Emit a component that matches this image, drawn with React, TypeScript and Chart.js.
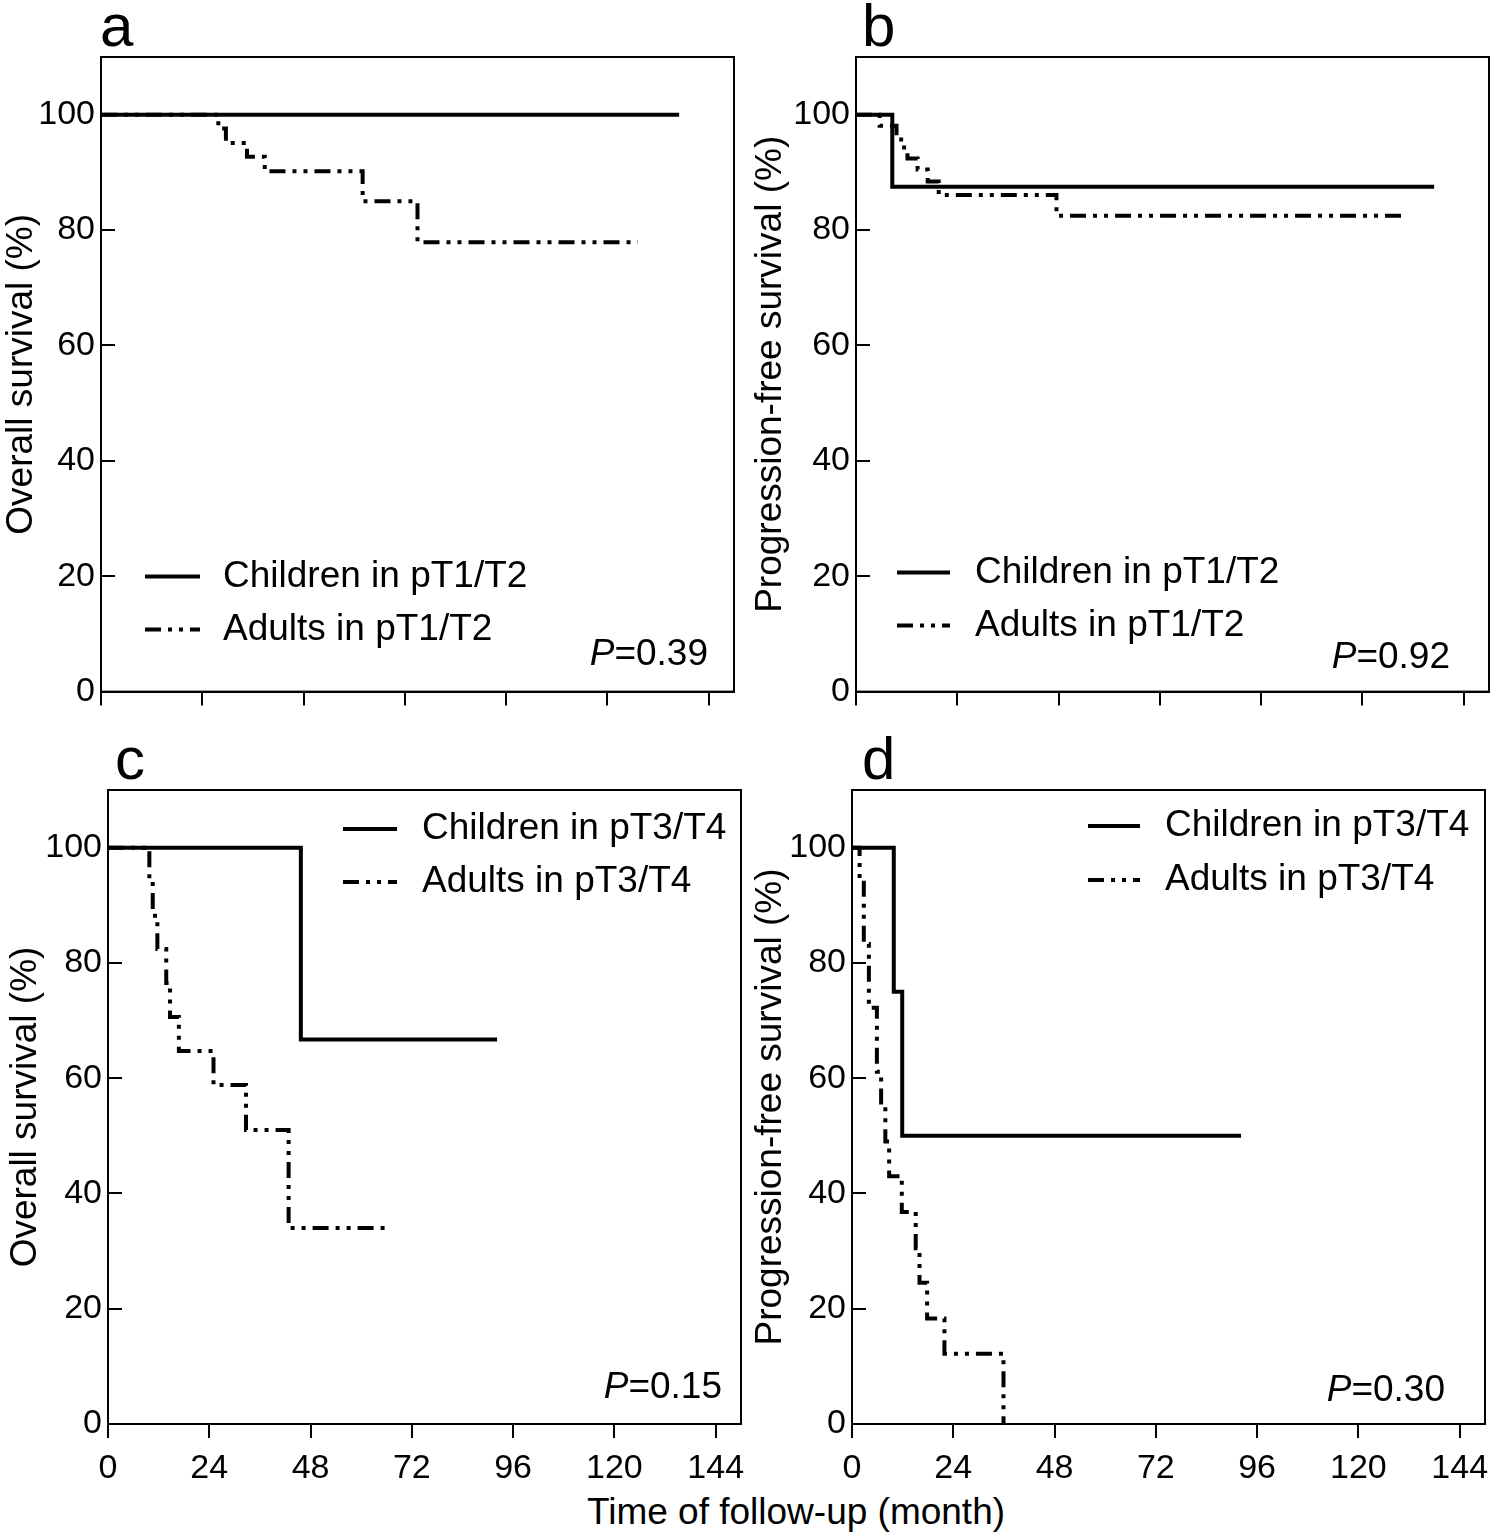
import React, { useEffect, useRef } from 'react';
import { Chart, registerables } from 'chart.js';

Chart.register(...registerables);

const FONT = '"Liberation Sans", Arial, Helvetica, sans-serif';
Chart.defaults.font.family = FONT;
Chart.defaults.color = '#000';

// ---- axes ----
const xTicks = [0, 24, 48, 72, 96, 120, 144];
const yTicks = [0, 20, 40, 60, 80, 100];
const xMax = 150;
const yMax = 110;
const xTitle = 'Time of follow-up (month)';

// ---- panel a: OS, pT1/T2 ----
const aChildrenTime = [0, 137];
const aChildrenSurv = [100, 100];
const aAdultsTime = [0, 27.8, 29.6, 34.6, 38.8, 62.0, 75.0, 127.2];
const aAdultsSurv = [100, 97.6, 95.1, 92.7, 90.2, 85.0, 77.9, 77.9];

// ---- panel b: PFS, pT1/T2 ----
const bChildrenTime = [0, 8.6, 137];
const bChildrenSurv = [100, 87.5, 87.5];
const bAdultsTime = [0, 5.6, 9.6, 10.7, 12.2, 14.6, 17.0, 19.6, 47.5, 129.4];
const bAdultsSurv = [100, 98.1, 96.2, 94.3, 92.4, 90.5, 88.4, 86.1, 82.5, 82.5];

// ---- panel c: OS, pT3/T4 ----
const cChildrenTime = [0, 45.7, 92.2];
const cChildrenSurv = [100, 66.7, 66.7];
const cAdultsTime = [0, 9.8, 10.6, 11.7, 13.8, 14.7, 16.8, 25.0, 32.7, 42.8, 66.5];
const cAdultsSurv = [100, 94.1, 88.2, 82.4, 76.5, 70.6, 64.7, 58.8, 51.0, 34.0, 34.0];

// ---- panel d: PFS, pT3/T4 ----
const dChildrenTime = [0, 9.9, 11.9, 92.2];
const dChildrenSurv = [100, 75.0, 50.0, 50.0];
const dAdultsTime = [0, 1.8, 2.8, 4.0, 5.9, 6.9, 7.9, 8.8, 11.8, 15.1, 16.0, 17.8, 21.9, 35.9];
const dAdultsSurv = [100, 94.4, 83.3, 72.2, 61.1, 55.0, 49.0, 43.0, 36.8, 30.5, 24.5, 18.3, 12.2, 0];

// ---- text ----
const legendTop = ['Children in pT1/T2', 'Adults in pT1/T2'];
const legendBottom = ['Children in pT3/T4', 'Adults in pT3/T4'];
const yTitleOS = 'Overall survival (%)';
const yTitlePFS = 'Progression-free survival (%)';
const pValues = ['0.39', '0.92', '0.15', '0.30'];
const letters = ['a', 'b', 'c', 'd'];

const ADULT_DASH = [16, 7, 4, 7, 4, 7];

const toPoints = (t: number[], s: number[]) => t.map((x, i) => ({ x, y: s[i] }));

const decorPlugin = {
  id: 'panelDecor',
  afterDraw(chart: any, _args: any, opts: any) {
    const { ctx, chartArea: ca } = chart;
    ctx.save();
    // frame
    ctx.strokeStyle = '#000';
    ctx.lineWidth = 2;
    ctx.setLineDash([]);
    ctx.strokeRect(ca.left, ca.top, ca.right - ca.left, ca.bottom - ca.top);
    // panel letter
    ctx.fillStyle = '#000';
    ctx.font = `60px ${FONT}`;
    ctx.textAlign = 'left';
    ctx.textBaseline = 'alphabetic';
    ctx.fillText(opts.letter, ca.left + opts.letterDx, ca.top - 11);
    // legend
    const lg = opts.legend;
    ctx.font = `37px ${FONT}`;
    ctx.textBaseline = 'middle';
    chart.data.datasets.forEach((ds: any, i: number) => {
      const y = (lg.from === 'top' ? ca.top : ca.bottom) + lg.ys[i];
      ctx.beginPath();
      ctx.lineWidth = 4;
      ctx.lineCap = 'butt';
      ctx.setLineDash(ds.borderDash || []);
      ctx.moveTo(ca.left + lg.x0, y);
      ctx.lineTo(ca.left + lg.x1, y);
      ctx.stroke();
      ctx.setLineDash([]);
      ctx.fillText(ds.label, ca.left + lg.tx, y);
    });
    // P value
    ctx.textBaseline = 'alphabetic';
    const rest = '=' + opts.p;
    ctx.font = `37px ${FONT}`;
    const wRest = ctx.measureText(rest).width;
    ctx.font = `italic 37px ${FONT}`;
    const wP = ctx.measureText('P').width;
    const xEnd = ca.right + opts.pDx;
    const yB = ca.bottom + opts.pDy;
    ctx.fillText('P', xEnd - wRest - wP, yB);
    ctx.font = `37px ${FONT}`;
    ctx.fillText(rest, xEnd - wRest, yB);
    ctx.restore();
  },
};

type PanelCfg = {
  left: number; top: number; w: number; h: number;
  padTop: number; padRight: number; yAxisW: number; xAxisH: number;
  showXLabels: boolean; yTitle: string; yTitlePad: number;
  labels: string[];
  childT: number[]; childS: number[]; adultT: number[]; adultS: number[];
  letter: string; letterDx: number; p: string; pDx: number; pDy: number;
  legend: { x0: number; x1: number; tx: number; ys: number[]; from: string };
};

const panels: PanelCfg[] = [
  {
    left: 0, top: 0, w: 745, h: 732, padTop: 57, padRight: 11, yAxisW: 101, xAxisH: 40,
    showXLabels: false, yTitle: yTitleOS, yTitlePad: 0, labels: legendTop,
    childT: aChildrenTime, childS: aChildrenSurv, adultT: aAdultsTime, adultS: aAdultsSurv,
    letter: letters[0], letterDx: -1, p: pValues[0], pDx: -26, pDy: -27,
    legend: { x0: 44, x1: 99, tx: 122, ys: [-115, -62], from: 'bottom' },
  },
  {
    left: 745, top: 0, w: 746, h: 732, padTop: 57, padRight: 2, yAxisW: 111, xAxisH: 40,
    showXLabels: false, yTitle: yTitlePFS, yTitlePad: 4, labels: legendTop,
    childT: bChildrenTime, childS: bChildrenSurv, adultT: bAdultsTime, adultS: bAdultsSurv,
    letter: letters[1], letterDx: 6, p: pValues[1], pDx: -39, pDy: -24,
    legend: { x0: 41, x1: 94, tx: 119, ys: [-119, -66], from: 'bottom' },
  },
  {
    left: 0, top: 720, w: 745, h: 770, padTop: 70, padRight: 4, yAxisW: 108, xAxisH: 66,
    showXLabels: true, yTitle: yTitleOS, yTitlePad: 4, labels: legendBottom,
    childT: cChildrenTime, childS: cChildrenSurv, adultT: cAdultsTime, adultS: cAdultsSurv,
    letter: letters[2], letterDx: 7, p: pValues[2], pDx: -19, pDy: -26,
    legend: { x0: 235, x1: 289, tx: 314, ys: [39, 92], from: 'top' },
  },
  {
    left: 745, top: 720, w: 746, h: 770, padTop: 70, padRight: 6, yAxisW: 107, xAxisH: 66,
    showXLabels: true, yTitle: yTitlePFS, yTitlePad: 4, labels: legendBottom,
    childT: dChildrenTime, childS: dChildrenSurv, adultT: dAdultsTime, adultS: dAdultsSurv,
    letter: letters[3], letterDx: 10, p: pValues[3], pDx: -40, pDy: -23,
    legend: { x0: 236, x1: 288, tx: 313, ys: [36, 90], from: 'top' },
  },
];

function Panel({ cfg }: { cfg: PanelCfg }) {
  const ref = useRef<HTMLCanvasElement | null>(null);
  useEffect(() => {
    if (!ref.current) return;
    const chart = new Chart(ref.current, {
      type: 'line',
      data: {
        datasets: [
          {
            label: cfg.labels[0],
            data: toPoints(cfg.childT, cfg.childS),
            borderColor: '#000',
            borderWidth: 4,
            stepped: 'before',
            pointRadius: 0,
            fill: false,
            borderCapStyle: 'butt',
          },
          {
            label: cfg.labels[1],
            data: toPoints(cfg.adultT, cfg.adultS),
            borderColor: '#000',
            borderWidth: 4,
            borderDash: ADULT_DASH,
            stepped: 'before',
            pointRadius: 0,
            fill: false,
            borderCapStyle: 'butt',
          },
        ],
      } as any,
      options: {
        animation: false,
        responsive: false,
        layout: { padding: { top: cfg.padTop, right: cfg.padRight, left: 0, bottom: 0 } },
        plugins: {
          legend: { display: false },
          tooltip: { enabled: false },
          panelDecor: {
            letter: cfg.letter, letterDx: cfg.letterDx, p: cfg.p, pDx: cfg.pDx, pDy: cfg.pDy,
            legend: cfg.legend,
          },
        } as any,
        scales: {
          x: {
            type: 'linear',
            min: 0,
            max: xMax,
            afterBuildTicks: (ax: any) => { ax.ticks = xTicks.map((v) => ({ value: v })); },
            afterFit: (ax: any) => {
              ax.height = cfg.xAxisH;
              ax.paddingLeft = 0;
              ax.paddingRight = 0;
            },
            grid: { drawOnChartArea: false, tickLength: 14, color: '#000', lineWidth: 2 },
            border: { display: true, color: '#000', width: 2 },
            ticks: {
              display: cfg.showXLabels, font: { size: 34 }, color: '#000', padding: 10,
              maxRotation: 0, autoSkip: false,
            },
          },
          y: {
            type: 'linear',
            min: 0,
            max: yMax,
            afterBuildTicks: (ax: any) => { ax.ticks = yTicks.map((v) => ({ value: v })); },
            afterFit: (ax: any) => { ax.width = cfg.yAxisW; },
            grid: { drawOnChartArea: false, tickLength: -14, color: '#000', lineWidth: 2 },
            border: { display: true, color: '#000', width: 2 },
            ticks: { font: { size: 34 }, color: '#000', padding: 20, autoSkip: false },
            title: {
              display: true, text: cfg.yTitle, font: { size: 37 }, color: '#000',
              padding: { top: cfg.yTitlePad, bottom: 0 },
            },
          },
        },
      } as any,
      plugins: [decorPlugin as any],
    });
    return () => chart.destroy();
  }, []);
  return (
    <canvas
      ref={ref}
      width={cfg.w}
      height={cfg.h}
      style={{ position: 'absolute', left: cfg.left, top: cfg.top, width: cfg.w, height: cfg.h }}
    />
  );
}

export default function App() {
  return (
    <div style={{ position: 'absolute', left: 0, top: 0, width: 1491, height: 1536, background: '#fff' }}>
      {panels.map((p, i) => (
        <Panel key={i} cfg={p} />
      ))}
      <div
        style={{
          position: 'absolute', left: 396, top: 1490, width: 800, height: 44,
          textAlign: 'center', font: `37px ${FONT}`, lineHeight: '44px', color: '#000',
        }}
      >
        {xTitle}
      </div>
    </div>
  );
}
